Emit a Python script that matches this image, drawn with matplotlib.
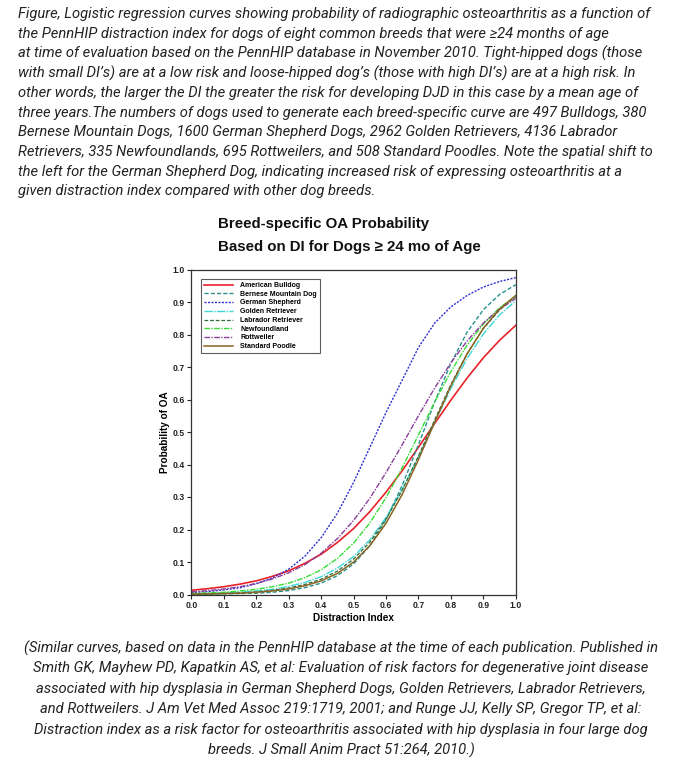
import matplotlib
matplotlib.use("Agg")
import matplotlib.pyplot as plt

# values (probability of OA at each DI)
di = [0.0, 0.05, 0.1, 0.15, 0.2, 0.25, 0.3, 0.35, 0.4, 0.45, 0.5,
      0.55, 0.6, 0.65, 0.7, 0.75, 0.8, 0.85, 0.9, 0.95, 1.0]
bulldog = [0.013, 0.018, 0.024, 0.032, 0.042, 0.056, 0.073, 0.096, 0.124, 0.160, 0.203,
           0.255, 0.315, 0.381, 0.453, 0.526, 0.598, 0.666, 0.728, 0.782, 0.828]
bernese = [0.001, 0.001, 0.002, 0.003, 0.004, 0.007, 0.012, 0.021, 0.035, 0.058, 0.094,
           0.150, 0.230, 0.336, 0.461, 0.592, 0.711, 0.807, 0.876, 0.923, 0.953]
shepherd = [0.006, 0.009, 0.014, 0.021, 0.033, 0.051, 0.078, 0.118, 0.175, 0.250, 0.345,
            0.452, 0.560, 0.660, 0.760, 0.835, 0.885, 0.920, 0.946, 0.963, 0.975]
golden = [0.002, 0.003, 0.005, 0.007, 0.011, 0.016, 0.025, 0.037, 0.055, 0.081, 0.117,
          0.168, 0.237, 0.323, 0.424, 0.530, 0.634, 0.726, 0.801, 0.860, 0.904]
labrador = [0.001, 0.002, 0.003, 0.005, 0.008, 0.013, 0.020, 0.031, 0.047, 0.072, 0.109,
            0.161, 0.232, 0.321, 0.426, 0.537, 0.646, 0.741, 0.818, 0.875, 0.917]
newfoundland = [0.003, 0.005, 0.007, 0.011, 0.016, 0.024, 0.035, 0.052, 0.076, 0.111, 0.158,
                0.220, 0.298, 0.390, 0.491, 0.592, 0.686, 0.767, 0.832, 0.882, 0.918]
rottweiler = [0.008, 0.012, 0.017, 0.024, 0.034, 0.048, 0.067, 0.092, 0.127, 0.172, 0.228,
              0.296, 0.375, 0.461, 0.550, 0.635, 0.713, 0.780, 0.835, 0.878, 0.911]
poodle = [0.001, 0.002, 0.003, 0.004, 0.007, 0.011, 0.017, 0.027, 0.042, 0.065, 0.100,
          0.150, 0.219, 0.308, 0.415, 0.530, 0.642, 0.740, 0.819, 0.878, 0.920]

breeds = ["American Bulldog", "Bernese Mountain Dog", "German Shepherd", "Golden Retriever",
          "Labrador Retriever", "Newfoundland", "Rottweiler", "Standard Poodle"]
series = [bulldog, bernese, shepherd, golden, labrador, newfoundland, rottweiler, poodle]
colors = ["#e82229", "#2a8f8f", "#2f2fd0", "#3fd6d6", "#2f6a38", "#33dd33", "#8a3f9a", "#8a6422"]
styles = ["-", (0, (3, 1.5)), (0, (1.5, 1)), (0, (6, 1, 1, 1)), (0, (3, 1.5)),
          (0, (4, 1, 1, 1)), (0, (4, 1, 1, 1)), "-"]
widths = [1.2, 1.0, 1.0, 1.0, 0.9, 1.0, 1.0, 1.1]

top_caption = [
    "Figure, Logistic regression curves showing probability of radiographic osteoarthritis as a function of",
    "the PennHIP distraction index for dogs of eight common breeds that were \u226524 months of age",
    "at time of evaluation based on the PennHIP database in November 2010. Tight-hipped dogs (those",
    "with small DI\u2019s) are at a low risk and loose-hipped dog\u2019s (those with high DI\u2019s) are at a high risk. In",
    "other words, the larger the DI the greater the risk for developing DJD in this case by a mean age of",
    "three years.The numbers of dogs used to generate each breed-specific curve are 497 Bulldogs, 380",
    "Bernese Mountain Dogs, 1600 German Shepherd Dogs, 2962 Golden Retrievers, 4136 Labrador",
    "Retrievers, 335 Newfoundlands, 695 Rottweilers, and 508 Standard Poodles. Note the spatial shift to",
    "the left for the German Shepherd Dog, indicating increased risk of expressing osteoarthritis at a",
    "given distraction index compared with other dog breeds.",
]
bottom_caption = [
    "(Similar curves, based on data in the PennHIP database at the time of each publication. Published in",
    "Smith GK, Mayhew PD, Kapatkin AS, et al: Evaluation of risk factors for degenerative joint disease",
    "associated with hip dysplasia in German Shepherd Dogs, Golden Retrievers, Labrador Retrievers,",
    "and Rottweilers. J Am Vet Med Assoc 219:1719, 2001; and Runge JJ, Kelly SP, Gregor TP, et al:",
    "Distraction index as a risk factor for osteoarthritis associated with hip dysplasia in four large dog",
    "breeds. J Small Anim Pract 51:264, 2010.)",
]

W, H = 682, 764
fig = plt.figure(figsize=(W / 100, H / 100), dpi=100)

def fy(y):
    return 1 - y / H

cap_font = dict(family="Roboto", style="italic", fontsize=10.6, color="#222222", va="center")
for i, line in enumerate(top_caption):
    fig.text(18 / W, fy(14 + 19.7 * i), line, ha="left", **cap_font)
for i, line in enumerate(bottom_caption):
    fig.text(341 / W, fy(648 + 20.4 * i), line, ha="center", **cap_font)

title_font = dict(family="Liberation Sans", fontweight="bold", fontsize=10.8, color="#111111",
                  va="center", ha="left")
fig.text(218 / W, fy(224), "Breed-specific OA Probability", **title_font)
fig.text(218 / W, fy(247), "Based on DI for Dogs \u2265 24 mo of Age", **title_font)

ax = fig.add_axes([191.5 / W, 1 - 594.5 / H, 324.2 / W, 325 / H])
for s, name, c, ls, lw in zip(series, breeds, colors, styles, widths):
    ax.plot(di, s, color=c, linestyle=ls, linewidth=lw, label=name)

ax.set_xlim(0, 1)
ax.set_ylim(0, 1)
ax.set_xticks([i / 10 for i in range(11)])
ax.set_yticks([i / 10 for i in range(11)])
ax.set_xticklabels(["%.1f" % (i / 10) for i in range(11)])
ax.set_yticklabels(["%.1f" % (i / 10) for i in range(11)])
ax.tick_params(direction="out", length=3, width=0.8, labelsize=6.2, pad=2, colors="#222222")
for lab in ax.get_xticklabels() + ax.get_yticklabels():
    lab.set_fontweight("bold")
    lab.set_family("Liberation Sans")
ax.tick_params(top=False, right=False)
for sp in ax.spines.values():
    sp.set_linewidth(0.9)
    sp.set_color("#333333")
ax.set_xlabel("Distraction Index", family="Liberation Sans", fontweight="bold", fontsize=7.2, labelpad=2)
ax.set_ylabel("Probability of OA", family="Liberation Sans", fontweight="bold", fontsize=7.2, labelpad=2)

leg = ax.legend(loc="upper left", bbox_to_anchor=(0.03, 0.97),
                prop=dict(family="Liberation Sans", weight="bold", size=5),
                frameon=True, fancybox=False, handlelength=4.2, handletextpad=1.0,
                labelspacing=0.25, borderpad=0.4, borderaxespad=0)
leg.get_frame().set_edgecolor("#333333")
leg.get_frame().set_linewidth(0.8)

fig.savefig("out.png", dpi=100)
